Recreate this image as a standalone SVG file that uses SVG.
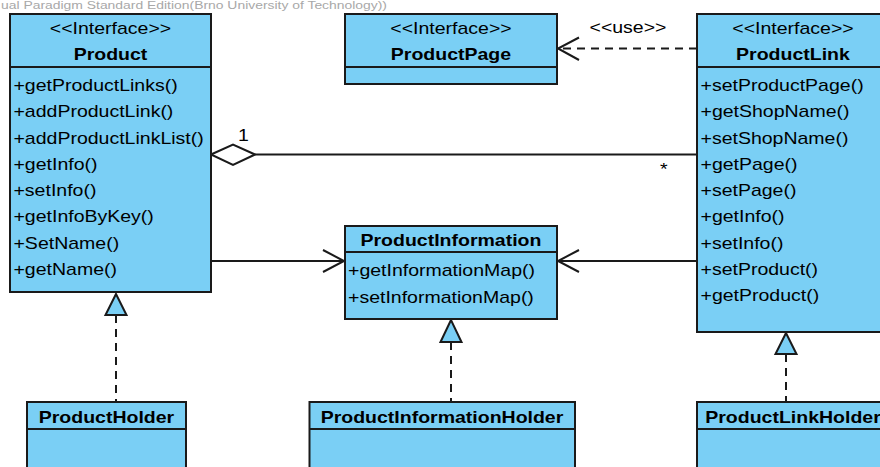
<svg xmlns="http://www.w3.org/2000/svg" width="880" height="467" viewBox="0 0 880 467">
<style>
.box{fill:#7acff5;stroke:#1a1a1a;stroke-width:2}
.sep{stroke:#1a1a1a;stroke-width:2}
.t{font-family:"Liberation Sans",Arial,sans-serif;font-size:16px;fill:#000;transform-box:fill-box;transform:scaleX(1.22)}
.l{transform-origin:0 0}
.c{text-anchor:middle;transform-origin:50% 0}
.b{font-weight:bold}
.ln{fill:none;stroke:#1a1a1a;stroke-width:2}
.dash{stroke-dasharray:8 6}
.tri{fill:#7acff5;stroke:#1a1a1a;stroke-width:2;stroke-linejoin:miter}
.wm{font-family:"Liberation Sans",Arial,sans-serif;font-size:10px;fill:#a8a8a8}
</style>
<rect width="880" height="467" fill="#ffffff"/>
<text class="wm" x="1" y="8.5" textLength="386" lengthAdjust="spacingAndGlyphs">ual Paradigm Standard Edition(Brno University of Technology))</text>

<g id="connectors">
  <!-- aggregation Product - ProductLink -->
  <line class="ln" x1="255" y1="154.5" x2="697" y2="154.5"/>
  <polygon points="211,154.5 233,144.5 255,154.5 233,165" fill="#ffffff" stroke="#1a1a1a" stroke-width="2"/>
  <text class="t l" x="238" y="141">1</text>
  <text class="t l" x="660" y="175">*</text>
  <!-- use dependency -->
  <line class="ln dash" x1="697" y1="48.5" x2="559" y2="48.5"/>
  <polyline class="ln" points="579,37.5 558,48.5 579,60"/>
  <text class="t c" x="628" y="33">&lt;&lt;use&gt;&gt;</text>
  <!-- Product -> ProductInformation -->
  <line class="ln" x1="211" y1="261" x2="343" y2="261"/>
  <polyline class="ln" points="323,250 344,261 323,272"/>
  <!-- ProductLink -> ProductInformation -->
  <line class="ln" x1="697" y1="261" x2="559" y2="261"/>
  <polyline class="ln" points="579,250 558,261 579,272"/>
  <!-- realizations -->
  <line class="ln dash" x1="116" y1="315" x2="116" y2="402"/>
  <polygon class="tri" points="116,294 105.5,315 126.5,315"/>
  <line class="ln dash" x1="451" y1="342" x2="451" y2="402"/>
  <polygon class="tri" points="451,320 440.5,342 461.5,342"/>
  <line class="ln dash" x1="786" y1="354" x2="786" y2="402"/>
  <polygon class="tri" points="786,333 775.5,354 796.5,354"/>
</g>

<g id="Product">
  <rect class="box" x="10" y="14" width="201" height="278"/>
  <line class="sep" x1="10" y1="67" x2="211" y2="67"/>
  <text class="t c" x="110.5" y="34.5">&lt;&lt;Interface&gt;&gt;</text>
  <text class="t c b" x="110.5" y="60.5">Product</text>
  <text class="t l" x="13.5" y="91">+getProductLinks()</text>
  <text class="t l" x="13.5" y="117.3">+addProductLink()</text>
  <text class="t l" x="13.5" y="143.6">+addProductLinkList()</text>
  <text class="t l" x="13.5" y="169.9">+getInfo()</text>
  <text class="t l" x="13.5" y="196.2">+setInfo()</text>
  <text class="t l" x="13.5" y="222.5">+getInfoByKey()</text>
  <text class="t l" x="13.5" y="248.8">+SetName()</text>
  <text class="t l" x="13.5" y="275.1">+getName()</text>
</g>

<g id="ProductPage">
  <rect class="box" x="345" y="14" width="212" height="70"/>
  <line class="sep" x1="345" y1="67" x2="557" y2="67"/>
  <text class="t c" x="451" y="34.5">&lt;&lt;Interface&gt;&gt;</text>
  <text class="t c b" x="451" y="60.5">ProductPage</text>
</g>

<g id="ProductLink">
  <rect class="box" x="697" y="14" width="192" height="318"/>
  <line class="sep" x1="697" y1="67" x2="889" y2="67"/>
  <text class="t c" x="793" y="34.5">&lt;&lt;Interface&gt;&gt;</text>
  <text class="t c b" x="793" y="60.5">ProductLink</text>
  <text class="t l" x="700.5" y="91">+setProductPage()</text>
  <text class="t l" x="700.5" y="117.3">+getShopName()</text>
  <text class="t l" x="700.5" y="143.6">+setShopName()</text>
  <text class="t l" x="700.5" y="169.9">+getPage()</text>
  <text class="t l" x="700.5" y="196.2">+setPage()</text>
  <text class="t l" x="700.5" y="222.5">+getInfo()</text>
  <text class="t l" x="700.5" y="248.8">+setInfo()</text>
  <text class="t l" x="700.5" y="275.1">+setProduct()</text>
  <text class="t l" x="700.5" y="301.4">+getProduct()</text>
</g>

<g id="ProductInformation">
  <rect class="box" x="345" y="226" width="212" height="93"/>
  <line class="sep" x1="345" y1="252" x2="557" y2="252"/>
  <text class="t c b" x="451" y="246">ProductInformation</text>
  <text class="t l" x="348" y="276.5">+getInformationMap()</text>
  <text class="t l" x="348" y="302.8">+setInformationMap()</text>
</g>

<g id="ProductHolder">
  <rect class="box" x="27" y="402" width="159" height="80"/>
  <line class="sep" x1="27" y1="429" x2="186" y2="429"/>
  <text class="t c b" x="106.5" y="423">ProductHolder</text>
</g>

<g id="ProductInformationHolder">
  <rect class="box" x="309.5" y="402" width="265.5" height="80"/>
  <line class="sep" x1="309.5" y1="429" x2="575" y2="429"/>
  <text class="t c b" x="442" y="423">ProductInformationHolder</text>
</g>

<g id="ProductLinkHolder">
  <rect class="box" x="697" y="402" width="192" height="80"/>
  <line class="sep" x1="697" y1="429" x2="889" y2="429"/>
  <text class="t c b" x="793" y="423">ProductLinkHolder</text>
</g>
</svg>
